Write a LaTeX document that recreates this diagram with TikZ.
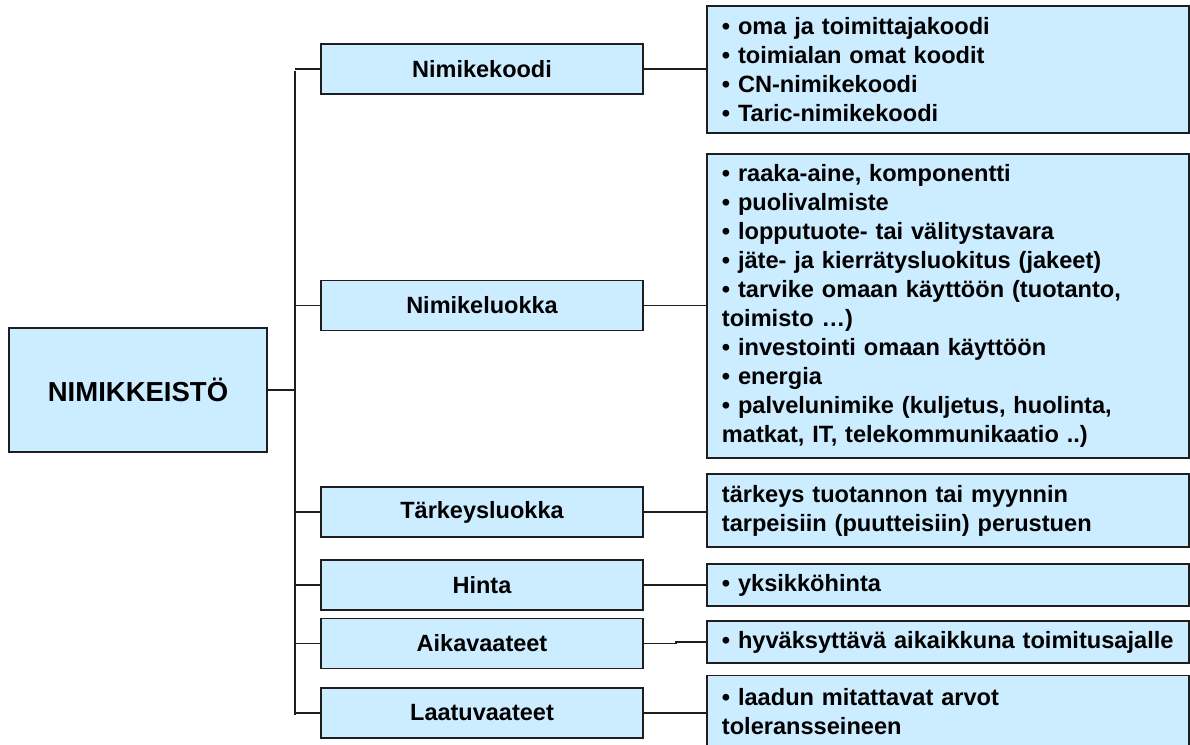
\documentclass[tikz,border=0pt]{standalone}
\usepackage{fontspec}
\setmainfont{Liberation Sans}
\usetikzlibrary{calc}
\definecolor{boxfill}{RGB}{204,236,255}
\definecolor{edge}{RGB}{30,30,30}
\begin{document}
\begin{tikzpicture}[x=1pt,y=-1pt,
  rootbox/.style={draw=edge,line width=2pt,fill=boxfill,minimum width=258pt,minimum height=124pt,
    inner sep=0pt,font=\fontsize{27.5}{32}\selectfont\bfseries},
  midbox/.style={draw=edge,line width=1.8pt,fill=boxfill,minimum width=322pt,minimum height=50pt,
    inner sep=0pt,font=\fontsize{23.5}{28}\selectfont\bfseries},
  infobox/.style={draw=edge,line width=1.8pt,fill=boxfill,anchor=west,text width=452pt,
    inner xsep=15pt,inner ysep=0pt,align=left,
    font=\fontsize{23.6}{29}\selectfont\bfseries},
  link/.style={draw=edge,line width=1.5pt},
  trunk/.style={draw=edge,line width=2pt}]
\useasboundingbox (0,0) rectangle (1190,744);
\clip (0,0) rectangle (1190,744);
\fill[white] (0,0) rectangle (1190,744);

% root
\node[rootbox] (root) at (138,390) {NIMIKKEISTÖ};

% second level
\node[midbox] (nk) at (482,69)    {Nimikekoodi};
\node[midbox] (nl) at (482,305.5) {Nimikeluokka};
\node[midbox] (ts) at (482,512)   {Tärkeysluokka};
\node[midbox] (hi) at (482,585)   {Hinta};
\node[midbox] (av) at (482,643.5) {Aikavaateet};
\node[midbox] (lv) at (482,713)   {Laatuvaateet};

% detail boxes
\node[infobox,minimum height=127pt] (nki) at (706,69.5)
  {• oma ja toimittajakoodi\\ • toimialan omat koodit\\ • CN-nimikekoodi\\ • Taric-nimikekoodi};
\node[infobox,minimum height=304pt] (nli) at (706,306)
  {• raaka-aine, komponentti\\ • puolivalmiste\\ • lopputuote- tai välitystavara\\
   • jäte- ja kierrätysluokitus (jakeet)\\ • tarvike omaan käyttöön (tuotanto,\\ toimisto …)\\
   • investointi omaan käyttöön\\ • energia\\ • palvelunimike (kuljetus, huolinta,\\
   matkat, IT, telekommunikaatio ..)};
\node[infobox,minimum height=73pt] (tsi) at (706,510.5)
  {tärkeys tuotannon tai myynnin\\ tarpeisiin (puutteisiin) perustuen};
\node[infobox,minimum height=42pt] (hii) at (706,585) {• yksikköhinta};
\node[infobox,minimum height=42pt] (avi) at (706,642)
  {\mbox{• hyväksyttävä aikaikkuna toimitusajalle}};
\node[infobox,minimum height=73pt] (lvi) at (706,712)
  {• laadun mitattavat arvot\\ toleransseineen};

% trunk and branches
\coordinate (ttop) at (295,71);
\coordinate (tbot) at (295,715);
\draw[trunk] (ttop) -- (tbot);
\draw[trunk] (root.east) -- (root.east -| ttop);
\foreach \n in {nk,nl,ts,hi,av,lv}
  \draw[link] (\n.west -| ttop) -- (\n.west);

% links to detail boxes
\foreach \n in {nk,nl,ts,hi,lv}
  \draw[link] (\n.east) -- (\n.east -| \n i.west);
\draw[link] (av.east) -- ++(32,0) |- (avi.west);
\end{tikzpicture}
\end{document}
